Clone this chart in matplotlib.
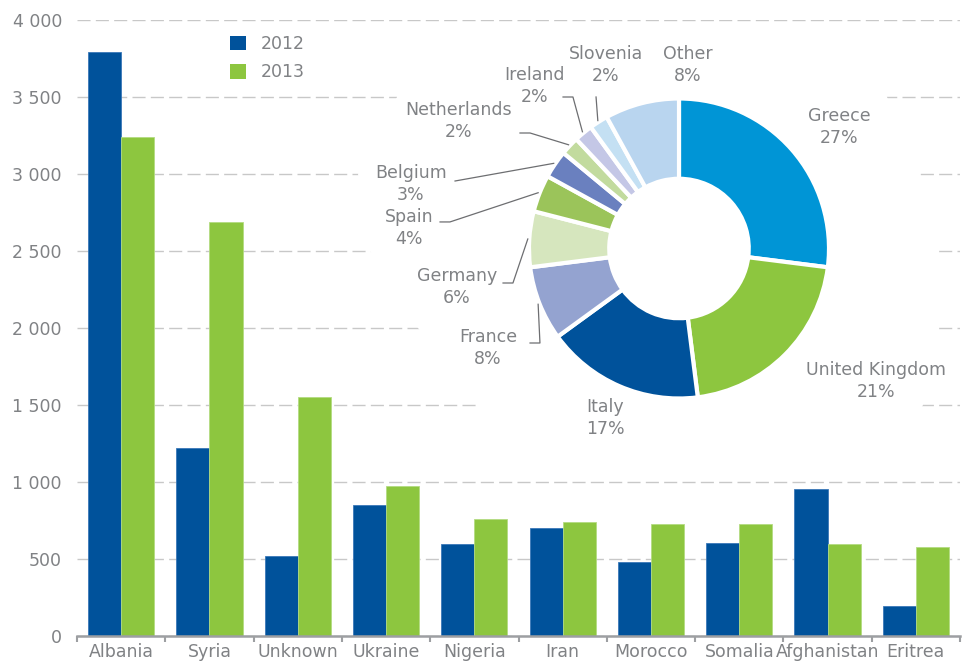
import numpy as np
import matplotlib.pyplot as plt
from matplotlib.patches import Polygon, Patch

plt.rcParams['font.family'] = ['DejaVu Sans']

# bar chart data
countries = ['Albania', 'Syria', 'Unknown', 'Ukraine', 'Nigeria', 'Iran',
             'Morocco', 'Somalia', 'Afghanistan', 'Eritrea']
values_2012 = [3790, 1220, 520, 850, 600, 700, 480, 605, 955, 195]
values_2013 = [3240, 2690, 1555, 976, 762, 738, 729, 725, 600, 578]
y_ticks = [0, 500, 1000, 1500, 2000, 2500, 3000, 3500, 4000]
series_names = ['2012', '2013']

# donut data (clockwise from 12 o'clock)
pie_labels = ['Greece', 'United Kingdom', 'Italy', 'France', 'Germany', 'Spain',
              'Belgium', 'Netherlands', 'Ireland', 'Slovenia', 'Other']
pie_shares = [27, 21, 17, 8, 6, 4, 3, 2, 2, 2, 8]
pie_colors = ['#0095d6', '#8dc63f', '#00529b', '#94a3d0', '#d6e6be', '#9bc45a',
              '#6a80bf', '#c2db9e', '#c4c7e6', '#c4e0f3', '#b9d5ef']

BLUE = '#00529b'
GREEN = '#8dc63f'
GREY = '#808285'
W, H = 965, 664

fig = plt.figure(figsize=(W / 100, H / 100), dpi=100)

def px(x0, y_top, x1, y_bot):
    # pixel box (from top-left) -> figure fraction rect
    return [x0 / W, 1 - y_bot / H, (x1 - x0) / W, (y_bot - y_top) / H]

ax = fig.add_axes(px(77, 20, 960, 636))

x = np.arange(len(countries))
bw = 0.375
ax.bar(x - bw / 2, values_2012, bw, color=BLUE, edgecolor='#3a78b8', linewidth=0.6, label=series_names[0])
ax.bar(x + bw / 2, values_2013, bw, color=GREEN, edgecolor='#b4dc82', linewidth=0.6, label=series_names[1])

ax.set_xlim(-0.5, len(countries) - 0.5)
ax.set_ylim(0, 4000)
ax.set_yticks(y_ticks)
ax.set_yticklabels([f'{v:,}'.replace(',', ' ') for v in y_ticks])
ax.set_xticks(x)
ax.set_xticklabels(countries)
ax.set_xticks(np.arange(len(countries) + 1) - 0.5, minor=True)
ax.tick_params(axis='y', length=0, pad=10.8, labelsize=12.5, labelcolor=GREY)
ax.tick_params(axis='x', which='major', length=0, pad=5, labelsize=12.5, labelcolor=GREY)
ax.tick_params(axis='x', which='minor', length=4, width=1.5, color='#9d9fa2')

for s in ['top', 'right', 'left']:
    ax.spines[s].set_visible(False)
ax.spines['bottom'].set_color('#9d9fa2')
ax.spines['bottom'].set_linewidth(1.8)

ax.set_axisbelow(True)
ax.yaxis.grid(True, color='#c8c8c8', linewidth=1.0, linestyle=(0, (9.4, 3.8)))
ax.xaxis.grid(False)

# white area behind the donut that hides the grid
mask_px = [(397, 30), (880, 30), (887, 97), (920, 174), (935, 251), (935, 328),
           (923, 405), (900, 445), (480, 445), (477, 405), (418, 328), (370, 251),
           (358, 174), (397, 97)]
mask = Polygon([(a / W, 1 - b / H) for a, b in mask_px], closed=True,
               transform=fig.transFigure, facecolor='white', edgecolor='none', zorder=0.8)
ax.add_patch(mask)

handles = [Patch(facecolor=BLUE, edgecolor='none'), Patch(facecolor=GREEN, edgecolor='none')]
fig.legend(handles, series_names, loc='upper left', bbox_to_anchor=(230 / W, 1 - 35 / H),
           frameon=False, fontsize=12.5, labelcolor=GREY, handlelength=0.92, handleheight=0.92,
           handletextpad=0.85, labelspacing=0.6, borderpad=0, borderaxespad=0)

# donut
R = 150.0
cx, cy = 679, 248.5
left, right, top, bot = 360, 960, 25, 450
pax = fig.add_axes(px(left, top, right, bot))
pax.pie(pie_shares, colors=pie_colors, startangle=90, counterclock=False, radius=1,
        wedgeprops=dict(width=0.535, edgecolor='white', linewidth=3))
pax.set_xlim((left - cx) / R, (right - cx) / R)
pax.set_ylim((cy - bot) / R, (cy - top) / R)
pax.set_aspect('auto')
pax.axis('off')

label_pos = {
    'Greece': (1.067, 0.81), 'United Kingdom': (1.313, -0.883), 'Italy': (-0.493, -1.13),
    'France': (-1.273, -0.663), 'Germany': (-1.48, -0.257), 'Spain': (-1.80, 0.137),
    'Belgium': (-1.787, 0.43), 'Netherlands': (-1.467, 0.85), 'Ireland': (-0.96, 1.083),
    'Slovenia': (-0.487, 1.223), 'Other': (0.06, 1.223),
}
# leader line start and elbow (pie units)
leaders = {
    'France': [(-0.993, -0.63), (-0.927, -0.63)],
    'Germany': [(-1.173, -0.23), (-1.107, -0.23)],
    'Spain': [(-1.593, 0.177), (-1.527, 0.177)],
    'Belgium': [(-1.493, 0.45)],
    'Netherlands': [(-1.06, 0.77), (-0.993, 0.77)],
    'Ireland': [(-0.773, 1.01), (-0.707, 1.01)],
    'Slovenia': [(-0.553, 1.01)],
}

cum = np.cumsum([0] + pie_shares)
total = cum[-1]
for i, name in enumerate(pie_labels):
    tx, ty = label_pos[name]
    pax.text(tx, ty, f'{name}\n{pie_shares[i]}%', ha='center', va='center',
             fontsize=12.5, color=GREY, linespacing=1.25)
    if name in leaders:
        mid = (cum[i] + cum[i + 1]) / 2 / total
        ang = np.deg2rad(90 - 360 * mid)
        pts = leaders[name] + [(np.cos(ang) * 1.01, np.sin(ang) * 1.01)]
        pax.plot([p[0] for p in pts], [p[1] for p in pts], color='#6d6e71', linewidth=0.9)

fig.savefig('out.png', dpi=100)
